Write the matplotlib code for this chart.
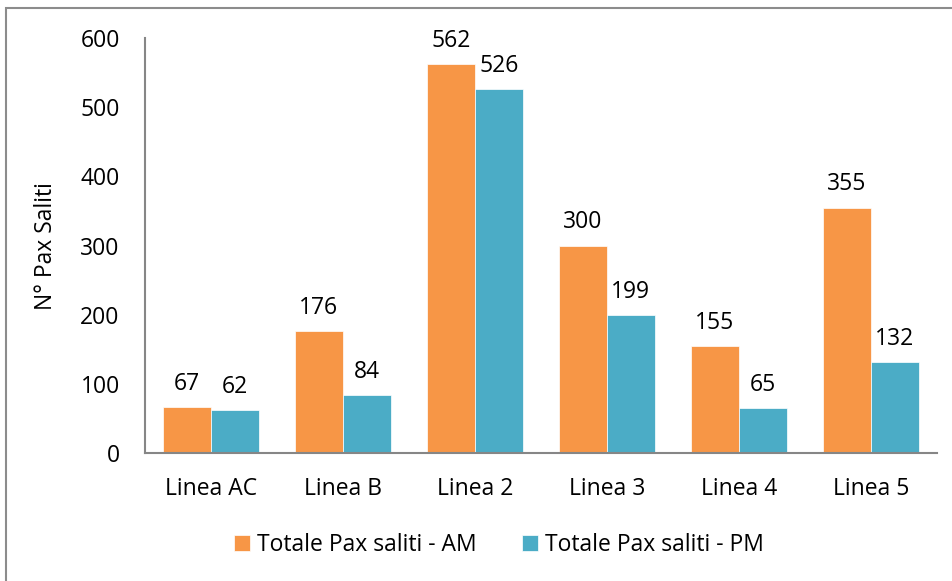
import matplotlib.pyplot as plt
import numpy as np
from matplotlib.patches import Rectangle

plt.rcParams['font.family'] = ['Open Sans', 'DejaVu Sans']

# data
categories = ["Linea AC", "Linea B", "Linea 2", "Linea 3", "Linea 4", "Linea 5"]
am_values = [67, 176, 562, 300, 155, 355]
pm_values = [62, 84, 526, 199, 65, 132]
series_labels = ["Totale Pax saliti - AM", "Totale Pax saliti - PM"]

ORANGE = "#F79646"
TEAL = "#4BACC6"
AXIS_GRAY = "#868686"
FS = 16.5

fig = plt.figure(figsize=(9.52, 5.81), dpi=100)
ax = fig.add_axes([0.152, 0.220, 0.832, 0.7146])

# outer chart frame (only left/top visible in the original)
fig.patches.append(Rectangle((6 / 952, -0.05), 1.1, 1 - 8 / 581 + 0.05,
                             transform=fig.transFigure, fill=False,
                             edgecolor="#8c8c8c", linewidth=1.5))

x = np.arange(len(categories))
w = 0.364
b1 = ax.bar(x - w / 2, am_values, w, color=ORANGE, label=series_labels[0],
            edgecolor="white", linewidth=0.5)
b2 = ax.bar(x + w / 2, pm_values, w, color=TEAL, label=series_labels[1],
            edgecolor="white", linewidth=0.5)

for bars in (b1, b2):
    for rect in bars:
        h = rect.get_height()
        ax.annotate(f"{h:.0f}", (rect.get_x() + rect.get_width() / 2, h),
                    xytext=(0, 8), textcoords="offset points",
                    ha="center", va="bottom", fontsize=FS)

ax.set_xlim(-0.5, len(categories) - 0.5)
ax.set_ylim(0, 600)
ax.set_yticks(range(0, 601, 100))
ax.set_xticks(x)
ax.set_xticklabels(categories)
ax.tick_params(axis="both", length=0, labelsize=FS)
ax.tick_params(axis="y", pad=18)
ax.tick_params(axis="x", pad=17)

for s in ("top", "right"):
    ax.spines[s].set_visible(False)
for s in ("left", "bottom"):
    ax.spines[s].set_color(AXIS_GRAY)
    ax.spines[s].set_linewidth(1.5)

ax.set_ylabel("N° Pax Saliti", fontsize=FS, labelpad=16)

fig.legend(handles=[b1, b2], labels=series_labels, loc="center",
           bbox_to_anchor=(499 / 952, 1 - 545 / 581), ncol=2, frameon=False,
           fontsize=FS, handlelength=0.7, handleheight=0.7,
           handletextpad=0.3, columnspacing=2.0)

fig.savefig("out.png", dpi=100)
